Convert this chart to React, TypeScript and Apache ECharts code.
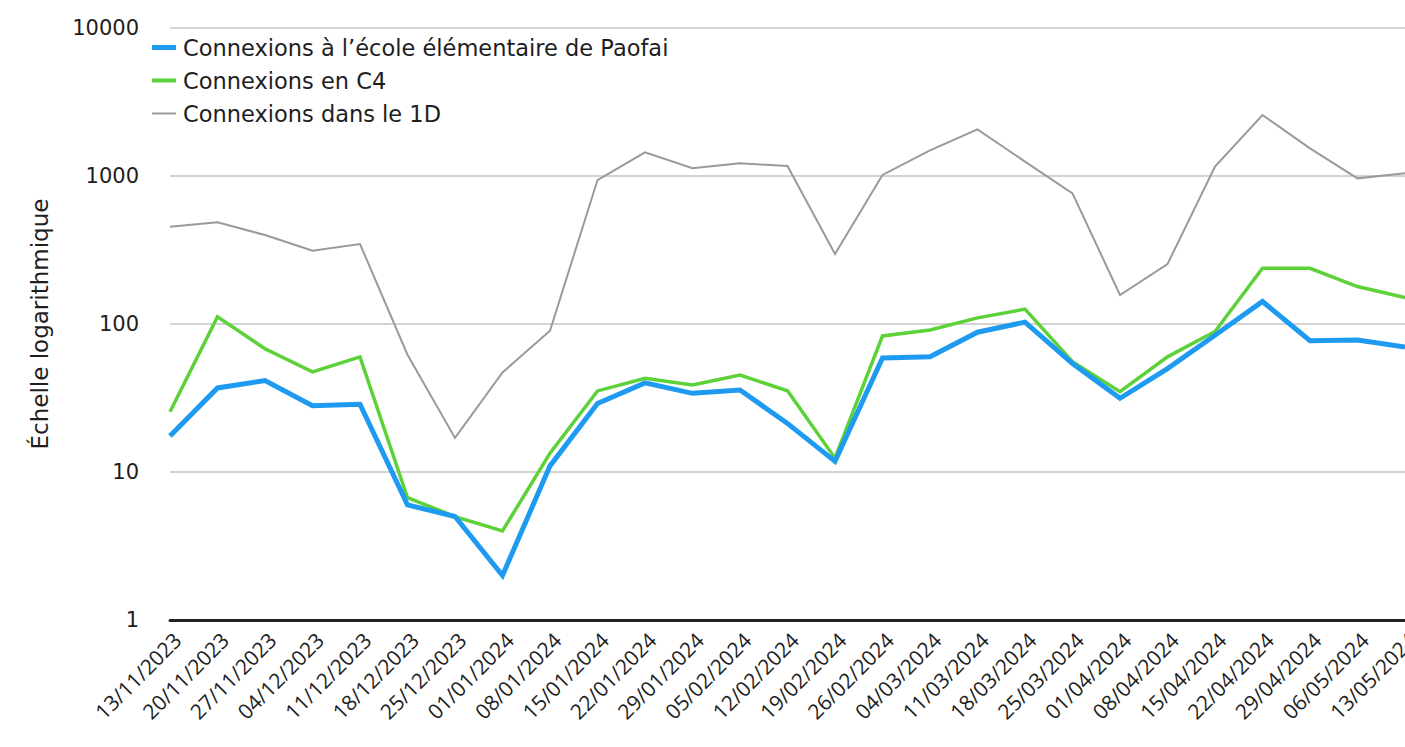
import React, { useEffect, useRef } from "react";
import * as echarts from "echarts";

const categories = [
  "13/11/2023", "20/11/2023", "27/11/2023", "04/12/2023", "11/12/2023", "18/12/2023",
  "25/12/2023", "01/01/2024", "08/01/2024", "15/01/2024", "22/01/2024", "29/01/2024",
  "05/02/2024", "12/02/2024", "19/02/2024", "26/02/2024", "04/03/2024", "11/03/2024",
  "18/03/2024", "25/03/2024", "01/04/2024", "08/04/2024", "15/04/2024", "22/04/2024",
  "29/04/2024", "06/05/2024", "13/05/2024",
];

const paofai = [17.5, 37, 41.5, 28, 28.7, 6, 5, 2, 11, 29, 40, 34, 35.8, 21.3, 11.8, 59, 60, 88, 103, 54, 31.5, 50, 84, 142, 77, 78, 70];
const c4 = [25.5, 112, 68, 47.5, 60, 6.7, 5, 4, 13.4, 35.3, 43, 38.7, 45.2, 35.4, 12.4, 83, 91, 110, 126, 55.6, 34.9, 60, 89, 238, 238, 179, 151];
const d1 = [454, 487, 399, 313, 347, 62, 17, 47, 90, 939, 1446, 1127, 1218, 1169, 297, 1016, 1490, 2066, 1250, 764, 157, 254, 1156, 2583, 1538, 964, 1042];

const seriesNames = [
  "Connexions à l\u2019école élémentaire de Paofai",
  "Connexions en C4",
  "Connexions dans le 1D",
];
const colors = ["#1E9BF0", "#5CD138", "#9A9A9A"];
const widths = [5, 3.5, 2];

export default function App() {
  const ref = useRef<HTMLDivElement>(null);
  useEffect(() => {
    if (!ref.current) return;
    const chart = echarts.init(ref.current, null, { renderer: "svg" });
    const wide = "'DejaVu Sans', sans-serif";
    const tickFont = "'Open Sans', 'Noto Sans', sans-serif";
    const legendCenters = [48, 81, 114];
    const legendHeights = [5, 4, 2];
    chart.setOption({
      animation: false,
      backgroundColor: "#ffffff",
      textStyle: { fontFamily: wide },
      grid: { left: 170, right: 0, top: 28, bottom: 127, containLabel: false, outerBoundsMode: "none" },
      legend: seriesNames.map((n, i) => ({
        data: [n],
        left: 152,
        top: legendCenters[i] - 12,
        padding: 0,
        icon: "rect",
        itemWidth: 24,
        itemHeight: legendHeights[i],
        selectedMode: false,
        textStyle: { fontSize: 22.5, color: "#1e1e1e", fontFamily: wide, padding: [0, 0, 0, 2] },
      })),
      xAxis: {
        type: "category",
        data: categories,
        boundaryGap: false,
        axisLine: { lineStyle: { color: "#222", width: 3 } },
        axisTick: { show: false },
        axisLabel: {
          rotate: 45,
          fontSize: 21,
          color: "#1e1e1e",
          margin: 9,
          interval: 0,
          hideOverlap: false,
          verticalAlign: "top",
          fontFamily: tickFont,
        },
        splitLine: { show: false },
      },
      yAxis: {
        type: "log",
        logBase: 10,
        min: 1,
        max: 10000,
        name: "Échelle logarithmique",
        nameLocation: "middle",
        nameGap: 119,
        nameTextStyle: { fontSize: 23, color: "#1e1e1e", fontFamily: wide },
        axisLine: { show: false },
        axisTick: { show: false },
        axisLabel: {
          fontSize: 21,
          color: "#1e1e1e",
          margin: 31,
          fontFamily: wide,
          formatter: (v: number) => String(Math.round(v)),
        },
        splitLine: { lineStyle: { color: "#c4c4c4", width: 1.5 } },
      },
      series: [paofai, c4, d1].map((d, i) => ({
        name: seriesNames[i],
        type: "line",
        data: d,
        symbol: "none",
        z: 10 - i,
        lineStyle: { color: colors[i], width: widths[i], join: "miter" },
        itemStyle: { color: colors[i] },
      })),
    });
    return () => chart.dispose();
  }, []);
  return (
    <div
      ref={ref}
      style={{ position: "absolute", left: 0, top: 0, width: 1405, height: 747, background: "#fff" }}
    />
  );
}
